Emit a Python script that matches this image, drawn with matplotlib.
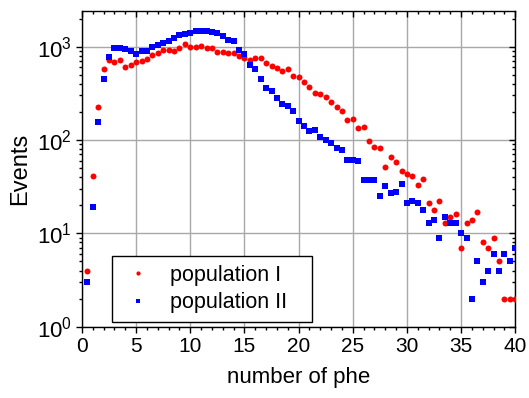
import numpy as np
import matplotlib
matplotlib.use("Agg")
import matplotlib.pyplot as plt
from matplotlib.ticker import MultipleLocator, LogLocator, NullFormatter

plt.rcParams['font.family'] = ['Liberation Sans', 'DejaVu Sans']
plt.rcParams['mathtext.fontset'] = 'custom'
plt.rcParams['mathtext.rm'] = 'Liberation Sans'
plt.rcParams['mathtext.it'] = 'Liberation Sans:italic'
plt.rcParams['mathtext.bf'] = 'Liberation Sans:bold'

# number of photoelectrons, bins of 0.5
phe = np.arange(1, 81) * 0.5

# population I (red circles)
pop1 = [4, 41, 228, 581, 725, 690, 718, 610, 632, 685,
        700, 740, 805, 849, 910, 910, 906, 965, 1061, 993,
        993, 1009, 961, 961, 871, 880, 852, 849, 801, 763,
        715, 751, 751, 668, 617, 596, 544, 572, 489, 473,
        415, 370, 321, 311, 287, 254, 228, 207, 165, 167,
        133, 138, 98, 84, 83, 51, 66, 58, 47, 43,
        41, 33, 38, 21, 18, 22, 13, 15, 16, 7,
        13, 14, 17, 8, 7, 9, 5, 2, 2, 2]

# population II (blue squares)
pop2 = [3, 19, 157, 454, 769, 961, 975, 955, 906, 825,
        899, 902, 980, 1046, 1100, 1137, 1235, 1340, 1368, 1391,
        1473, 1473, 1473, 1426, 1403, 1292, 1188, 1141, 929, 829,
        632, 581, 454, 361, 335, 284, 245, 230, 205, 161,
        141, 125, 128, 108, 100, 94, 82, 78, 61, 61,
        59, 37, 37, 37, 25, 32, 27, 28, 34, 21,
        22, 21, 18, 13, 14, 9, 15, 13, 13, 10,
        9, 2, 5, 3, 4, 6, 4, 6, 5, 7]

fig = plt.figure(figsize=(5.29, 3.98), dpi=100)
ax = fig.add_axes([0.155, 0.179, 0.819, 0.793])

ax.plot(phe, pop1, 'o', color='#ff0000', markersize=4.3, markeredgewidth=0,
        label='population I', zorder=3)
ax.plot(phe, pop2, 's', color='#0000ff', markersize=3.9, markeredgewidth=0,
        label='population II', zorder=3)

ax.set_yscale('log')
ax.set_xlim(0, 40)
ax.set_ylim(1, 2400)

ax.xaxis.set_major_locator(MultipleLocator(5))
ax.xaxis.set_minor_locator(MultipleLocator(1))
ax.yaxis.set_major_locator(LogLocator(base=10, numticks=10))
ax.yaxis.set_minor_locator(LogLocator(base=10, subs=np.arange(2, 10), numticks=20))
ax.yaxis.set_minor_formatter(NullFormatter())

ax.grid(True, which='major', color='#a8a8a8', linewidth=1.0)
ax.set_axisbelow(True)

ax.tick_params(which='both', top=True, right=True, width=1.0)
ax.tick_params(axis='x', labelsize=15)
ax.tick_params(axis='y', labelsize=16)
ax.tick_params(which='major', length=4)
ax.tick_params(which='minor', length=2.5)
ax.tick_params(axis='both', which='both', direction='out')
for t in ax.xaxis.get_major_ticks() + ax.xaxis.get_minor_ticks():
    t.tick2line.set_marker(3)  # top ticks point inward
for t in ax.yaxis.get_major_ticks() + ax.yaxis.get_minor_ticks():
    t.tick2line.set_marker(0)  # right ticks point inward
for s in ax.spines.values():
    s.set_linewidth(1.0)

ax.set_xlabel('number of phe', fontsize=16, labelpad=8)
ax.set_ylabel('Events', fontsize=17, labelpad=4)

leg = ax.legend(loc='lower left', bbox_to_anchor=(0.069, 0.015, 0.463, 0.2),
                mode='expand', fontsize=15.5, numpoints=1, handlelength=1.6,
                handletextpad=0.7, borderpad=0.4, labelspacing=0.3,
                borderaxespad=0, fancybox=False, edgecolor='black',
                framealpha=1, markerscale=0.7)
leg.get_frame().set_linewidth(1.0)

fig.savefig('out.png', dpi=100)
